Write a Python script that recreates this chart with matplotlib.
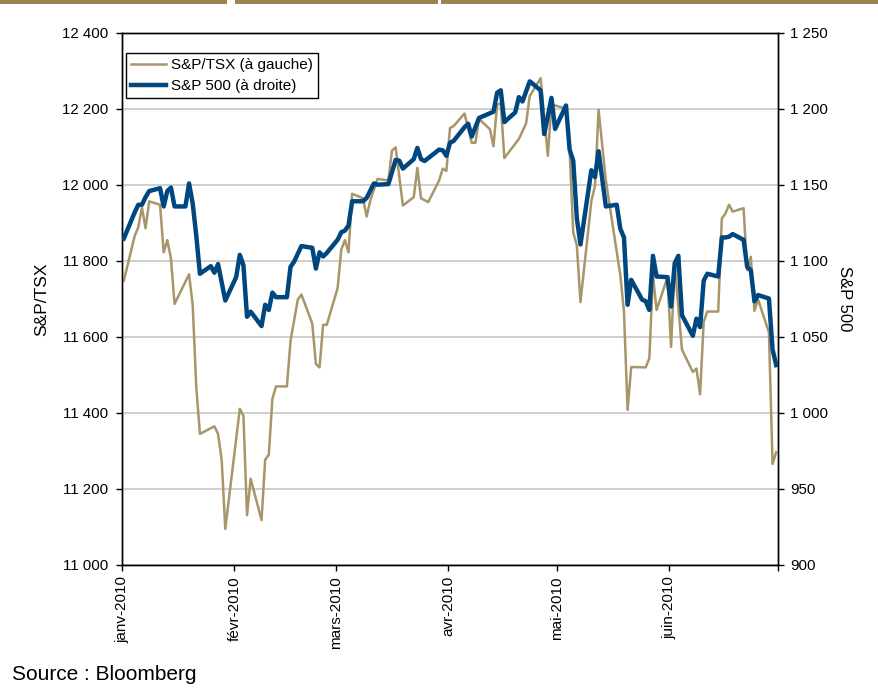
import matplotlib
matplotlib.use("Agg")
import matplotlib.pyplot as plt
from matplotlib.patches import Rectangle
from matplotlib.ticker import FuncFormatter, MultipleLocator
import pandas as pd

# S&P/TSX (left axis)
tsx_dates = [
    "2010-01-01", "2010-01-04", "2010-01-05", "2010-01-06", "2010-01-07", "2010-01-08",
    "2010-01-11", "2010-01-12", "2010-01-13", "2010-01-14", "2010-01-15", "2010-01-19",
    "2010-01-20", "2010-01-21", "2010-01-22", "2010-01-26", "2010-01-27", "2010-01-28",
    "2010-01-29", "2010-02-02", "2010-02-03", "2010-02-04", "2010-02-05", "2010-02-08",
    "2010-02-09", "2010-02-10", "2010-02-11", "2010-02-12", "2010-02-15", "2010-02-16",
    "2010-02-18", "2010-02-19", "2010-02-22", "2010-02-23", "2010-02-24", "2010-02-25",
    "2010-02-26", "2010-03-01", "2010-03-02", "2010-03-03", "2010-03-04", "2010-03-05",
    "2010-03-08", "2010-03-09", "2010-03-10", "2010-03-12", "2010-03-15", "2010-03-16",
    "2010-03-17", "2010-03-19", "2010-03-22", "2010-03-23", "2010-03-24", "2010-03-26",
    "2010-03-29", "2010-03-30", "2010-03-31", "2010-04-01", "2010-04-02", "2010-04-05",
    "2010-04-07", "2010-04-08", "2010-04-09", "2010-04-12", "2010-04-13", "2010-04-14",
    "2010-04-15", "2010-04-16", "2010-04-20", "2010-04-22", "2010-04-23", "2010-04-26",
    "2010-04-28", "2010-04-29", "2010-05-03", "2010-05-04", "2010-05-05", "2010-05-06",
    "2010-05-07", "2010-05-10", "2010-05-11", "2010-05-12", "2010-05-14", "2010-05-18",
    "2010-05-19", "2010-05-20", "2010-05-21", "2010-05-25", "2010-05-26", "2010-05-27",
    "2010-05-28", "2010-05-31", "2010-06-01", "2010-06-02", "2010-06-04", "2010-06-07",
    "2010-06-08", "2010-06-09", "2010-06-10", "2010-06-11", "2010-06-14", "2010-06-15",
    "2010-06-16", "2010-06-17", "2010-06-18", "2010-06-21", "2010-06-22", "2010-06-23",
    "2010-06-24", "2010-06-25", "2010-06-28", "2010-06-29", "2010-06-30",
]
tsx_values = [
    11748, 11866, 11889, 11941, 11886, 11957,
    11948, 11823, 11855, 11807, 11687, 11765,
    11685, 11467, 11345, 11365, 11345, 11277,
    11095, 11411, 11393, 11131, 11227, 11118,
    11277, 11290, 11438, 11470, 11470, 11590,
    11698, 11712, 11635, 11529, 11520, 11632,
    11632, 11729, 11830, 11855, 11823, 11977,
    11965, 11917, 11959, 12016, 12012, 12091,
    12099, 11946, 11968, 12045, 11965, 11955,
    12012, 12043, 12037, 12150, 12155, 12188,
    12111, 12111, 12174, 12147, 12102, 12212,
    12214, 12071, 12121, 12162, 12234, 12281,
    12077, 12212, 12201, 12093, 11875, 11841,
    11692, 11957, 11998, 12198, 12012, 11762,
    11667, 11408, 11521, 11520, 11544, 11762,
    11671, 11757, 11574, 11790, 11567, 11508,
    11517, 11449, 11640, 11667, 11667, 11912,
    11925, 11948, 11930, 11939, 11776, 11811,
    11669, 11699, 11612, 11266, 11297,
]

# S&P 500 (right axis)
spx_dates = [
    "2010-01-01", "2010-01-04", "2010-01-05", "2010-01-06", "2010-01-07", "2010-01-08",
    "2010-01-11", "2010-01-12", "2010-01-13", "2010-01-14", "2010-01-15", "2010-01-18",
    "2010-01-19", "2010-01-20", "2010-01-21", "2010-01-22", "2010-01-25", "2010-01-26",
    "2010-01-27", "2010-01-29", "2010-02-01", "2010-02-02", "2010-02-03", "2010-02-04",
    "2010-02-05", "2010-02-08", "2010-02-09", "2010-02-10", "2010-02-11", "2010-02-12",
    "2010-02-15", "2010-02-16", "2010-02-17", "2010-02-19", "2010-02-22", "2010-02-23",
    "2010-02-24", "2010-02-25", "2010-02-26", "2010-03-01", "2010-03-02", "2010-03-03",
    "2010-03-04", "2010-03-05", "2010-03-08", "2010-03-09", "2010-03-11", "2010-03-12",
    "2010-03-15", "2010-03-17", "2010-03-18", "2010-03-19", "2010-03-22", "2010-03-23",
    "2010-03-24", "2010-03-25", "2010-03-29", "2010-03-30", "2010-03-31", "2010-04-01",
    "2010-04-02", "2010-04-05", "2010-04-06", "2010-04-07", "2010-04-09", "2010-04-13",
    "2010-04-14", "2010-04-15", "2010-04-16", "2010-04-19", "2010-04-20", "2010-04-21",
    "2010-04-23", "2010-04-26", "2010-04-27", "2010-04-29", "2010-04-30", "2010-05-03",
    "2010-05-04", "2010-05-05", "2010-05-06", "2010-05-07", "2010-05-10", "2010-05-11",
    "2010-05-12", "2010-05-14", "2010-05-17", "2010-05-18", "2010-05-19", "2010-05-20",
    "2010-05-21", "2010-05-24", "2010-05-25", "2010-05-26", "2010-05-27", "2010-05-28",
    "2010-05-31", "2010-06-01", "2010-06-02", "2010-06-03", "2010-06-04", "2010-06-07",
    "2010-06-08", "2010-06-09", "2010-06-10", "2010-06-11", "2010-06-14", "2010-06-15",
    "2010-06-16", "2010-06-17", "2010-06-18", "2010-06-21", "2010-06-22", "2010-06-23",
    "2010-06-24", "2010-06-25", "2010-06-28", "2010-06-29", "2010-06-30",
]
spx_values = [
    1114.8, 1132.0, 1137.0, 1137.0, 1142.0, 1146.0,
    1147.9, 1135.9, 1146.0, 1148.3, 1135.9, 1135.9,
    1151.0, 1138.0, 1116.5, 1091.6, 1096.6, 1092.3,
    1098.0, 1074.0, 1089.4, 1104.0, 1097.3, 1063.3,
    1066.7, 1057.2, 1071.2, 1067.8, 1079.2, 1076.2,
    1076.2, 1096.2, 1099.6, 1109.8, 1108.7, 1095.0,
    1105.7, 1103.0, 1105.3, 1114.0, 1118.9, 1120.0,
    1123.4, 1139.3, 1139.3, 1141.5, 1151.0, 1150.2,
    1150.6, 1166.5, 1166.0, 1160.8, 1167.0, 1174.4,
    1167.0, 1165.8, 1173.3, 1172.8, 1169.2, 1177.8,
    1179.0, 1188.0, 1190.3, 1181.9, 1194.1, 1198.2,
    1210.7, 1212.3, 1191.4, 1197.8, 1207.8, 1205.0,
    1218.2, 1212.3, 1183.5, 1207.3, 1186.9, 1202.3,
    1173.3, 1166.0, 1128.0, 1110.9, 1159.7, 1155.2,
    1172.2, 1135.9, 1137.0, 1121.1, 1115.5, 1071.2,
    1087.6, 1074.6, 1073.5, 1067.8, 1103.4, 1089.8,
    1089.4, 1070.1, 1098.5, 1103.4, 1064.4, 1050.8,
    1062.1, 1056.5, 1087.1, 1091.6, 1089.8, 1115.5,
    1115.5, 1116.0, 1117.7, 1113.9, 1096.2, 1093.9,
    1073.5, 1077.6, 1075.3, 1041.8, 1031.5,
]

month_ticks = ["2010-01-01", "2010-02-01", "2010-03-01", "2010-04-01",
               "2010-05-01", "2010-06-01", "2010-07-01"]
month_labels = ["janv-2010", "févr-2010", "mars-2010", "avr-2010",
                "mai-2010", "juin-2010", ""]

GOLD = "#A8956A"
BLUE = "#00467F"

plt.rcParams["font.family"] = ["Liberation Sans", "DejaVu Sans"]


def space_thousands(v, pos):
    return f"{int(round(v)):,}".replace(",", " ")


# each point sits in the middle of its day, as on an Excel date axis
half_day = pd.Timedelta(hours=12)
tsx_x = pd.to_datetime(tsx_dates) + half_day
spx_x = pd.to_datetime(spx_dates) + half_day

fig = plt.figure(figsize=(8.79, 6.98), dpi=100)
ax = fig.add_axes([122 / 879, 133 / 698, 656 / 879, 532 / 698])
ax2 = ax.twinx()

line_tsx, = ax.plot(tsx_x, tsx_values, color=GOLD, linewidth=1.8,
                    label="S&P/TSX (à gauche)", zorder=3)
line_spx, = ax2.plot(spx_x, spx_values, color=BLUE, linewidth=3.2,
                     label="S&P 500 (à droite)", zorder=3)

ax.set_xlim(pd.Timestamp("2010-01-01"), pd.Timestamp("2010-07-01"))
ax.set_ylim(11000, 12400)
ax2.set_ylim(900, 1250)

ax.yaxis.set_major_locator(MultipleLocator(200))
ax2.yaxis.set_major_locator(MultipleLocator(50))
ax.yaxis.set_major_formatter(FuncFormatter(space_thousands))
ax2.yaxis.set_major_formatter(FuncFormatter(space_thousands))

ax.set_xticks(pd.to_datetime(month_ticks))
ax.set_xticklabels(month_labels, rotation=90, ha="center", va="top")

ax.grid(axis="y", color="#cccccc", linewidth=1.3, zorder=0)
ax.set_axisbelow(True)

for a in (ax, ax2):
    for spine in a.spines.values():
        spine.set_color("black")
        spine.set_linewidth(1.0)
    a.tick_params(direction="out", length=4, width=1.0, labelsize=10.8, colors="black")
ax.tick_params(axis="x", labelsize=11, pad=4)
ax.tick_params(axis="y", pad=6)
ax2.tick_params(axis="y", pad=5)

ax.set_ylabel("S&P/TSX", fontsize=12.5, va="center", ha="center")
ax.yaxis.set_label_coords((42 - 122) / 656, 0.5)
ax2.set_ylabel("S&P 500", fontsize=12, rotation=-90, va="center", ha="center")
ax2.yaxis.set_label_coords((845 - 122) / 656, 0.5)

leg = ax2.legend(handles=[line_tsx, line_spx], loc="upper left",
                 bbox_to_anchor=(0.006, 0.963), borderaxespad=0, fontsize=11,
                 fancybox=False, framealpha=1, edgecolor="black",
                 handlelength=2.3, handletextpad=0.3, labelspacing=0.45,
                 borderpad=0.35)
leg.get_frame().set_linewidth(1.0)

# decorative band at the top of the page
fig.patches.append(Rectangle((0, 1 - 4 / 698), 1, 4 / 698, transform=fig.transFigure,
                             facecolor="#9A8552", edgecolor="none"))
for gx, gw in [(227, 8), (438, 3)]:
    fig.patches.append(Rectangle((gx / 879, 1 - 4 / 698), gw / 879, 4 / 698,
                                 transform=fig.transFigure, facecolor="white",
                                 edgecolor="none"))

fig.text(12 / 879, 1 - 675 / 698, "Source : Bloomberg", fontsize=15, va="center", ha="left")

fig.savefig("out.png", dpi=100)
